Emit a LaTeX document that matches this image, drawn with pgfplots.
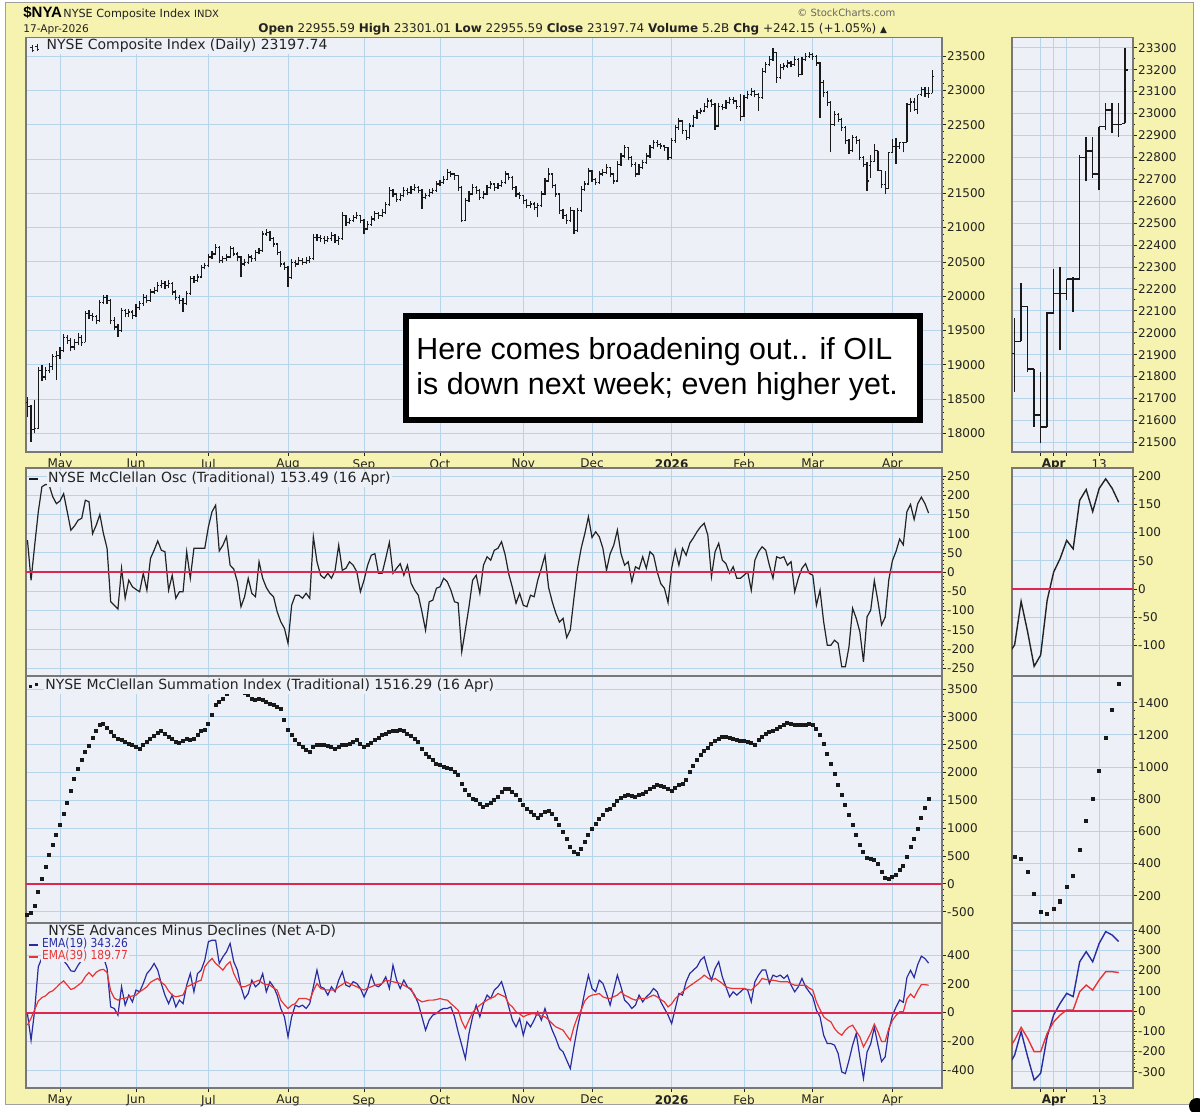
\documentclass[border=0pt]{standalone}
\usepackage{pgfplots}
\pgfplotsset{compat=1.18}
\usepackage{pgfplotstable}
\usepackage{fontspec}
\setmainfont{DejaVu Sans}
\newfontfamily\ls{Liberation Sans}
\newfontfamily\dvc[FakeStretch=0.86]{DejaVu Sans}
\definecolor{bgyellow}{RGB}{246,242,176}
\definecolor{plotbg}{RGB}{238,240,247}
\definecolor{gridc}{RGB}{182,212,234}
\definecolor{framec}{RGB}{120,120,120}
\definecolor{zeroc}{RGB}{220,40,80}
\definecolor{emablue}{RGB}{40,44,160}
\definecolor{emared}{RGB}{232,52,52}
\definecolor{txt}{RGB}{35,35,35}
\definecolor{barc}{RGB}{25,25,25}
\newcommand{\tf}{\fontsize{6}{7}\selectfont}

\pgfplotstableread{
i o h l c
0 18450 18533 18242 18388
1 18388 18420 17880 18050
2 18050 18485 18000 18070
3 18070 18960 18070 18920
4 18920 18990 18760 18820
5 18820 18960 18780 18920
6 18920 19030 18880 18970
7 18970 19160 18930 19115
8 19115 19200 18775 19140
9 19140 19260 19080 19210
10 19210 19450 19180 19400
11 19400 19440 19300 19355
12 19355 19390 19200 19260
13 19260 19370 19220 19330
14 19330 19460 19290 19400
15 19400 19430 19280 19330
16 19330 19790 19330 19745
17 19745 19800 19660 19720
18 19720 19760 19640 19700
19 19700 19730 19590 19650
20 19650 19950 19630 19910
21 19910 20020 19880 19985
22 19985 20010 19880 19940
23 19940 19960 19600 19650
24 19650 19690 19500 19550
25 19550 19600 19405 19500
26 19500 19830 19480 19790
27 19790 19820 19690 19745
28 19745 19820 19700 19770
29 19770 19800 19660 19720
30 19720 19880 19700 19840
31 19840 19930 19800 19890
32 19890 20030 19860 19985
33 19985 20010 19900 19940
34 19940 20100 19920 20060
35 20060 20130 20030 20085
36 20085 20200 20060 20155
37 20155 20230 20120 20180
38 20180 20220 20100 20155
39 20155 20230 20120 20180
40 20180 20200 20020 20060
41 20060 20090 19940 19985
42 19985 20020 19890 19940
43 19940 19970 19770 19890
44 19890 20080 19870 20035
45 20035 20290 20020 20255
46 20255 20300 20190 20230
47 20230 20320 20200 20280
48 20280 20460 20260 20420
49 20420 20490 20390 20445
50 20445 20610 20420 20570
51 20570 20660 20540 20615
52 20615 20760 20600 20715
53 20715 20730 20480 20520
54 20520 20590 20490 20545
55 20545 20620 20520 20570
56 20570 20730 20550 20690
57 20690 20710 20580 20615
58 20615 20640 20520 20570
59 20570 20590 20275 20470
60 20470 20540 20440 20495
61 20495 20610 20470 20570
62 20570 20600 20500 20545
63 20545 20680 20520 20640
64 20640 20700 20610 20665
65 20665 20950 20650 20905
66 20905 20980 20880 20930
67 20930 20950 20800 20835
68 20835 20860 20720 20760
69 20760 20780 20600 20640
70 20640 20660 20430 20470
71 20470 20500 20380 20420
72 20420 20440 20130 20275
73 20275 20540 20250 20495
74 20495 20530 20420 20470
75 20470 20570 20450 20520
76 20520 20550 20450 20495
77 20495 20570 20470 20520
78 20520 20590 20480 20545
79 20545 20900 20530 20860
80 20860 20910 20810 20860
81 20860 20890 20790 20835
82 20835 20870 20760 20810
83 20810 20880 20790 20835
84 20835 20930 20810 20880
85 20880 20900 20770 20810
86 20810 20870 20750 20835
87 20835 21220 20820 21175
88 21175 21190 21030 21075
89 21075 21140 21050 21100
90 21100 21190 21080 21150
91 21150 21220 21130 21175
92 21175 21190 21060 21100
93 21100 21120 20905 20980
94 20980 21090 20960 21050
95 21050 21170 21030 21125
96 21125 21240 21100 21200
97 21200 21230 21130 21175
98 21175 21270 21150 21220
99 21220 21380 21200 21340
100 21340 21590 21320 21540
101 21540 21560 21440 21490
102 21490 21510 21370 21415
103 21415 21510 21390 21465
104 21465 21590 21440 21540
105 21540 21570 21470 21515
106 21515 21610 21490 21560
107 21560 21640 21530 21585
108 21585 21610 21500 21540
109 21540 21560 21270 21440
110 21440 21510 21410 21465
111 21465 21560 21440 21515
112 21515 21580 21490 21540
113 21540 21680 21520 21635
114 21635 21700 21610 21660
115 21660 21750 21640 21705
116 21705 21850 21690 21800
117 21800 21830 21740 21780
118 21780 21800 21700 21755
119 21755 21770 21540 21585
120 21585 21600 21075 21100
121 21100 21430 21090 21390
122 21390 21530 21370 21490
123 21490 21630 21470 21585
124 21585 21610 21490 21535
125 21535 21560 21400 21440
126 21440 21530 21420 21490
127 21490 21620 21470 21585
128 21585 21680 21560 21635
129 21635 21650 21540 21585
130 21585 21650 21560 21610
131 21610 21700 21590 21660
132 21660 21820 21640 21780
133 21780 21800 21690 21730
134 21730 21750 21550 21585
135 21585 21600 21450 21490
136 21490 21520 21420 21465
137 21465 21480 21350 21390
138 21390 21410 21280 21320
139 21320 21390 21290 21345
140 21345 21370 21250 21295
141 21295 21360 21150 21320
142 21320 21530 21300 21490
143 21490 21720 21470 21680
144 21680 21875 21660 21780
145 21780 21800 21570 21610
146 21610 21630 21450 21490
147 21490 21510 21200 21245
148 21245 21270 21130 21175
149 21175 21200 21050 21100
150 21100 21300 21080 21245
151 21245 21260 20905 20955
152 20955 21290 20930 21245
153 21245 21600 21230 21560
154 21560 21680 21540 21635
155 21635 21870 21620 21825
156 21825 21840 21670 21705
157 21705 21730 21620 21660
158 21660 21820 21640 21780
159 21780 21850 21750 21800
160 21800 21920 21780 21875
161 21875 21890 21740 21780
162 21780 21800 21640 21680
163 21680 21970 21660 21925
164 21925 22090 21900 22045
165 22045 22210 22020 22165
166 22165 22180 21980 22020
167 22020 22040 21880 21925
168 21925 21950 21740 21780
169 21780 21920 21760 21875
170 21875 21990 21850 21950
171 21950 22090 21930 22045
172 22045 22210 22020 22165
173 22165 22280 22140 22240
174 22240 22270 22170 22215
175 22215 22240 22150 22190
176 22190 22210 22120 22165
177 22165 22180 21980 22020
178 22020 22310 22000 22265
179 22265 22500 22240 22455
180 22455 22600 22430 22555
181 22555 22570 22370 22410
182 22410 22430 22270 22310
183 22310 22520 22290 22480
184 22480 22640 22460 22600
185 22600 22720 22580 22675
186 22675 22750 22650 22700
187 22700 22810 22680 22770
188 22770 22890 22750 22845
189 22845 22870 22760 22795
190 22795 22810 22430 22480
191 22480 22810 22460 22770
192 22770 22800 22710 22750
193 22750 22860 22730 22820
194 22820 22910 22800 22870
195 22870 22900 22800 22845
196 22845 22860 22730 22770
197 22770 22950 22555 22625
198 22625 22940 22610 22895
199 22895 22990 22870 22940
200 22940 23040 22920 22990
201 22990 23010 22900 22940
202 22940 22960 22700 22895
203 22895 23320 22880 23280
204 23280 23420 23260 23380
205 23380 23500 23360 23450
206 23450 23620 23430 23550
207 23550 23560 23110 23185
208 23185 23380 23160 23330
209 23330 23400 23300 23355
210 23355 23440 23330 23400
211 23400 23430 23340 23380
212 23380 23500 23360 23450
213 23450 23470 23200 23235
214 23235 23490 23220 23450
215 23450 23540 23430 23500
216 23500 23560 23480 23525
217 23525 23540 23450 23500
218 23500 23510 23360 23400
219 23400 23420 22600 23110
220 23110 23150 22900 22965
221 22965 22990 22780 22820
222 22820 22840 22095 22505
223 22505 22700 22480 22650
224 22650 22670 22540 22580
225 22580 22600 22410 22455
226 22455 22480 22220 22265
227 22265 22290 22080 22120
228 22120 22350 22100 22310
229 22310 22330 22220 22265
230 22265 22290 21980 22020
231 22020 22040 21880 21925
232 21925 21950 21535 21680
233 21905 22065 21730 21960
234 21960 22225 21960 22120
235 22120 22120 21820 21835
236 21835 21835 21570 21625
237 21625 21820 21495 21570
238 21570 22095 21570 22090
239 22090 22290 22090 22180
240 22180 22300 21920 22180
241 22180 22245 22150 22245
242 22245 22255 22095 22245
243 22245 22810 22245 22800
244 22800 22895 22690 22830
245 22830 22895 22705 22725
246 22725 22940 22650 22940
247 22940 23050 22925 23015
248 23015 23050 22910 22950
249 22950 23050 22895 22950
250 22955.59 23301.01 22955.59 23197.74
}\price

\pgfplotstableread{
i osc sum b r
0 83 -551 -7 -87
1 -21 -520 -193 -40
2 70 -400 16 20
3 157 -150 318 80
4 222 80 380 104
5 228 300 420 116
6 226 520 440 140
7 196 700 420 151
8 178 880 400 174
9 185 1060 380 200
10 204 1250 360 220
11 157 1450 330 190
12 109 1670 290 160
13 120 1880 285 170
14 135 2060 329 190
15 140 2220 364 209
16 187 2360 375 250
17 183 2480 387 278
18 100 2620 364 250
19 122 2740 380 280
20 150 2850 399 295
21 100 2879 387 300
22 62 2800 306 278
23 -77 2720 39 150
24 -86 2660 28 100
25 -96 2610 -18 86
26 10 2580 179 97
27 -68 2550 51 100
28 -21 2520 121 109
29 -38 2490 74 115
30 -45 2460 156 121
31 -51 2430 144 144
32 -3 2490 202 160
33 -47 2550 271 179
34 36 2610 300 210
35 57 2650 341 225
36 81 2710 295 237
37 57 2741 200 210
38 53 2700 120 190
39 -47 2640 62 150
40 -8 2600 121 121
41 -68 2550 39 109
42 -51 2538 86 115
43 -51 2570 62 121
44 53 2610 190 179
45 -16 2580 271 190
46 62 2610 144 202
47 62 2670 271 215
48 62 2741 295 225
49 62 2759 364 318
50 118 2879 492 350
51 157 3028 503 376
52 174 3207 503 341
53 55 3267 341 320
54 70 3327 387 295
55 92 3417 422 330
56 18 3446 480 353
57 8 3470 353 271
58 -25 3480 295 220
59 -90 3460 179 179
60 -64 3434 97 179
61 -16 3398 132 190
62 -55 3327 225 202
63 -64 3309 179 215
64 27 3327 202 225
65 -16 3297 271 202
66 -40 3267 144 195
67 -55 3237 214 190
68 -64 3207 179 170
69 -103 3178 121 156
70 -129 3148 28 86
71 -146 2939 -30 55
72 -185 2759 -169 28
73 -86 2670 -30 50
74 -60 2580 51 62
75 -60 2520 39 97
76 -68 2460 51 97
77 -55 2400 28 97
78 -68 2370 62 86
79 92 2460 179 150
80 27 2502 295 202
81 -8 2502 179 167
82 -16 2490 167 160
83 -3 2478 121 156
84 -16 2460 179 156
85 5 2418 144 156
86 70 2460 225 179
87 5 2490 283 195
88 10 2502 190 214
89 27 2520 179 200
90 18 2550 214 190
91 1 2580 202 179
92 -51 2520 167 165
93 -21 2460 109 156
94 18 2502 167 170
95 44 2538 260 179
96 48 2580 190 190
97 -3 2622 179 195
98 -3 2670 202 202
99 36 2700 248 225
100 77 2729 167 220
101 -3 2741 329 214
102 10 2741 225 208
103 22 2759 167 202
104 -8 2741 225 190
105 18 2700 179 175
106 -29 2658 156 167
107 -47 2610 121 109
108 -60 2550 62 90
109 -103 2430 -30 74
110 -151 2340 -123 80
111 -77 2280 -53 86
112 -73 2220 -18 86
113 -42 2161 -7 90
114 -38 2130 16 97
115 -16 2100 28 90
116 -25 2083 28 86
117 -47 2059 39 62
118 -77 2011 -30 40
119 -80 1951 -134 16
120 -207 1801 -227 -60
121 -150 1681 -320 -111
122 -90 1591 -146 -53
123 -21 1531 -30 0
124 -8 1501 51 28
125 -55 1442 -30 51
126 18 1382 62 70
127 40 1412 121 86
128 31 1460 97 100
129 57 1501 156 109
130 62 1561 179 132
131 79 1651 214 120
132 45 1711 132 109
133 -5 1699 39 60
134 -40 1651 -53 39
135 -81 1591 -100 5
136 -55 1501 -42 -10
137 -86 1412 -158 -30
138 -90 1352 -65 -18
139 -60 1292 -100 -10
140 -64 1232 -53 -7
141 -21 1190 5 -18
142 10 1232 -53 -25
143 44 1292 28 -30
144 -40 1304 -53 -50
145 -77 1262 -123 -77
146 -107 1172 -181 -100
147 -130 1053 -250 -111
148 -120 933 -274 -123
149 -170 813 -332 -160
150 -150 664 -390 -193
151 -68 574 -239 -100
152 10 544 -100 -30
153 62 634 16 16
154 100 754 144 80
155 144 873 260 109
156 90 993 167 121
157 105 1083 144 125
158 92 1172 225 132
159 62 1244 202 109
160 5 1322 132 100
161 48 1352 51 97
162 70 1412 156 110
163 109 1484 260 121
164 48 1543 179 144
165 18 1579 86 120
166 27 1603 62 109
167 -25 1579 28 95
168 14 1561 51 86
169 8 1591 121 97
170 40 1621 74 97
171 10 1651 109 97
172 53 1699 132 110
173 44 1741 167 121
174 1 1770 144 109
175 -30 1758 74 90
176 -42 1741 28 74
177 -79 1711 -18 39
178 10 1663 -77 60
179 57 1723 28 97
180 18 1770 132 120
181 62 1801 121 144
182 44 1860 214 167
183 75 2011 271 185
184 89 2118 295 202
185 105 2220 318 220
186 118 2310 364 237
187 127 2382 387 260
188 96 2442 295 240
189 -12 2520 225 225
190 53 2562 306 237
191 75 2610 353 220
192 31 2640 248 202
193 22 2640 179 179
194 -3 2622 109 170
195 14 2598 144 167
196 -16 2580 121 167
197 -16 2568 144 167
198 -8 2562 167 167
199 1 2550 156 160
200 -47 2538 74 156
201 31 2502 214 180
202 53 2580 260 202
203 66 2640 295 237
204 57 2700 295 230
205 18 2729 202 225
206 -16 2741 260 225
207 40 2789 248 220
208 36 2819 260 214
209 40 2861 237 214
210 18 2897 260 214
211 27 2879 190 200
212 -51 2849 144 190
213 -16 2861 179 190
214 10 2861 237 190
215 22 2861 179 190
216 -3 2879 144 170
217 -8 2861 109 156
218 -86 2789 16 74
219 -47 2670 -30 20
220 -129 2520 -158 -30
221 -190 2340 -216 -50
222 -190 2161 -216 -65
223 -177 1981 -227 -111
224 -185 1770 -285 -140
225 -246 1591 -413 -158
226 -246 1412 -425 -123
227 -194 1232 -332 -100
228 -94 1053 -227 -88
229 -120 873 -146 -130
230 -155 694 -309 -169
231 -233 574 -459 -239
232 -116 470 -274 -193
233 -99 442 -218 -144
234 -22 428 -102 -81
235 -76 349 -226 -135
236 -137 210 -341 -201
237 -117 100 -308 -201
238 -20 86 -127 -111
239 30 117 -20 -54
240 54 163 38 -20
241 86 252 87 5
242 71 322 71 5
243 157 484 243 95
244 176 666 293 128
245 137 801 243 103
246 178 977 334 153
247 195 1178 392 194
248 178 1354 375 194
249 153.49 1516.29 343.26 189.77
}\ind

\pgfplotsset{
 base/.style={
  scale only axis, anchor=north west, clip=true,
  axis background/.style={fill=plotbg},
  axis line style={draw=framec, line width=0.6pt},
  grid=major, major grid style={draw=gridc, line width=0.45pt},
  xtick pos=bottom, ytick pos=right, yticklabel pos=right,
  tick align=outside, major tick length=1.8pt, minor tick length=0.9pt,
  tick style={draw=txt, line width=0.35pt},
  scaled ticks=false,
  yticklabel style={font=\tf, text=txt, inner sep=0.6pt},
  xticklabel style={font=\tf, text=txt, inner sep=1.6pt},
  /pgf/number format/fixed,
  /pgf/number format/1000 sep={},
  /pgf/number format/assume math mode=true,
 },
 lft/.style={base, width=458pt, xmin=-0.4, xmax=252.7,
   xtick={9,30,50,72,93,114,137,156,178,198,217,239}},
 rgt/.style={base, width=60.5pt, xmin=232.6, xmax=251.2,
   xtick={237,239,241,246}},
 monthlabels/.style={xticklabels={May,Jun,Jul,Aug,Sep,Oct,Nov,Dec,\textbf{2026},Feb,Mar,Apr}},
 aprlabels/.style={xticklabels={,\textbf{Apr},,13}},
 nolabels/.style={xticklabel=\empty},
 bars/.style={barc, line width=#1, mark=none},
}

\begin{document}
\begin{tikzpicture}
\useasboundingbox (0,0) rectangle (600pt,556pt);
\fill[white] (0,0) rectangle (600pt,556pt);
\filldraw[fill=bgyellow, draw=framec!70, line width=0.5pt] (2.5pt,554.5pt) rectangle (596.5pt,3.5pt);

% ---------- Panel 1 left: price
\begin{axis}[lft, monthlabels, at={(13pt,537.25pt)}, height=207.25pt,
  ymin=17728, ymax=23772, ytick={18000,18500,...,23500}, minor y tick num=4]
\addplot[bars=0.6pt, quiver={u=0, v=\thisrow{h}-\thisrow{l}}] table[x=i, y=l] {\price};
\addplot[bars=0.6pt, quiver={u=0.45, v=0}] table[x=i, y=c] {\price};
\addplot[bars=0.6pt, quiver={u=-0.45, v=0}] table[x=i, y=o] {\price};
\end{axis}

% ---------- Panel 1 right
\begin{axis}[rgt, aprlabels, at={(506pt,537.25pt)}, height=207.25pt,
  ymin=21456, ymax=23347, ytick={21500,21600,...,23300}, minor y tick num=1]
\addplot[bars=0.75pt, quiver={u=0, v=\thisrow{h}-\thisrow{l}}] table[x=i, y=l] {\price};
\addplot[bars=0.75pt, quiver={u=0.5, v=0}] table[x=i, y=c] {\price};
\addplot[bars=0.75pt, quiver={u=-0.5, v=0}] table[x=i, y=o] {\price};
\end{axis}

% ---------- Panel 2: McClellan Oscillator
\begin{axis}[lft, nolabels, at={(13pt,322pt)}, height=104pt,
  ymin=-270, ymax=270.8, ytick={-250,-200,...,250}, minor y tick num=4]
\addplot[txt, line width=0.6pt] table[x=i, y=osc] {\ind};
\addplot[zeroc, line width=1pt, forget plot] coordinates {(-10,0) (300,0)};
\end{axis}
\begin{axis}[rgt, nolabels, at={(506pt,322pt)}, height=104pt,
  ymin=-154, ymax=214.2, ytick={-100,-50,...,200}, minor y tick num=4]
\addplot[txt, line width=0.7pt] table[x=i, y=osc] {\ind};
\addplot[zeroc, line width=1pt, forget plot] coordinates {(200,0) (300,0)};
\end{axis}

% ---------- Panel 3: Summation index
\begin{axis}[lft, nolabels, at={(13pt,218pt)}, height=123.5pt,
  ymin=-703, ymax=3733, ytick={-500,0,...,3500}, minor y tick num=4]
\addplot[zeroc, line width=1pt, forget plot] coordinates {(-10,0) (300,0)};
\addplot[only marks, mark=square*, mark size=0.75pt, mark options={draw=barc, fill=barc, line width=0pt}] table[x=i, y=sum] {\ind};
\end{axis}
\begin{axis}[rgt, nolabels, at={(506pt,218pt)}, height=123.5pt,
  ymin=30, ymax=1566, ytick={200,400,...,1400}, minor y tick num=3]
\addplot[only marks, mark=square*, mark size=0.8pt, mark options={draw=barc, fill=barc, line width=0pt}] table[x=i, y=sum] {\ind};
\end{axis}

% ---------- Panel 4: Net A-D EMAs
\begin{axis}[lft, monthlabels, at={(13pt,94.5pt)}, height=82.5pt,
  ymin=-525, ymax=622.6, ytick={-400,-200,...,400}, minor y tick num=3]
\addplot[emablue, line width=0.6pt] table[x=i, y=b] {\ind};
\addplot[emared, line width=0.6pt] table[x=i, y=r] {\ind};
\addplot[zeroc, line width=1pt, forget plot] coordinates {(-10,0) (300,0)};
\end{axis}
\begin{axis}[rgt, aprlabels, at={(506pt,94.5pt)}, height=82.5pt,
  ymin=-380.5, ymax=434.6, ytick={-300,-200,...,400}, minor y tick num=4]
\addplot[emablue, line width=0.7pt] table[x=i, y=b] {\ind};
\addplot[emared, line width=0.7pt] table[x=i, y=r] {\ind};
\addplot[zeroc, line width=1pt, forget plot] coordinates {(200,0) (300,0)};
\end{axis}

% ---------- Panel titles
\node[anchor=base west, fill=plotbg, inner sep=0.6pt, text=txt, font=\fontsize{7}{8}\selectfont] at (22.5pt,531pt) {NYSE Composite Index (Daily) 23197.74};
\draw[txt, line width=0.45pt] (16pt,533.5pt) -- (16pt,530pt) (15pt,532.5pt) -- (16pt,532.5pt) (16pt,531pt) -- (17pt,531pt)
  (18.6pt,534pt) -- (18.6pt,530.5pt) (17.6pt,533pt) -- (18.6pt,533pt) (18.6pt,531.5pt) -- (19.6pt,531.5pt);
\node[anchor=base west, fill=plotbg, inner sep=0.6pt, text=txt, font=\fontsize{7}{8}\selectfont] at (23.25pt,314.5pt) {NYSE McClellan Osc (Traditional) 153.49 (16 Apr)};
\draw[barc, line width=1pt] (14.5pt,316.4pt) -- (19pt,316.4pt);
\node[anchor=base west, fill=plotbg, inner sep=0.6pt, text=txt, font=\fontsize{7}{8}\selectfont] at (21.85pt,211pt) {NYSE McClellan Summation Index (Traditional) 1516.29 (16 Apr)};
\fill[barc] (14.6pt,212.2pt) rectangle (16pt,213.6pt);
\fill[barc] (17.6pt,213pt) rectangle (19pt,214.4pt);
\node[anchor=base west, fill=plotbg, inner sep=0.6pt, text=txt, font=\fontsize{7}{8}\selectfont] at (23.35pt,88pt) {NYSE Advances Minus Declines (Net A-D)};
\draw[emablue, line width=1pt] (14.5pt,83.6pt) -- (19pt,83.6pt);
\node[anchor=base west, fill=plotbg, inner sep=0.4pt, text=emablue, font=\dvc\fontsize{6.2}{7}\selectfont] at (20.5pt,82pt) {EMA(19) 343.26};
\draw[emared, line width=1pt] (14.5pt,77.6pt) -- (19pt,77.6pt);
\node[anchor=base west, fill=plotbg, inner sep=0.4pt, text=emared, font=\dvc\fontsize{6.2}{7}\selectfont] at (20.5pt,76pt) {EMA(39) 189.77};

% ---------- Annotation box
\filldraw[fill=white, draw=black, line width=3pt] (203pt,398pt) rectangle (460pt,346pt);
\node[anchor=base west, inner sep=0pt, font=\ls\fontsize{15.2}{18}\selectfont] at (208pt,376.25pt) {Here comes broadening out.. if OIL};
\node[anchor=base west, inner sep=0pt, font=\ls\fontsize{15.2}{18}\selectfont] at (208pt,358.5pt) {is down next week; even higher yet.};

% ---------- Header
\node[anchor=base west, inner sep=0pt, text=black, font=\ls\bfseries\fontsize{7.5}{8}\selectfont] at (11.5pt,547pt) {\$NYA};
\node[anchor=base west, inner sep=0pt, text=txt, font=\fontsize{5.6}{6}\selectfont] at (31.5pt,547pt) {NYSE Composite Index {\fontsize{5}{6}\selectfont INDX}};
\node[anchor=base west, inner sep=0pt, text=txt, font=\fontsize{5.3}{6}\selectfont] at (11.5pt,539.5pt) {17-Apr-2026};
\node[anchor=base west, inner sep=0pt, text=txt, font=\fontsize{6}{7}\selectfont] at (129pt,539.5pt) {\textbf{Open} 22955.59 \textbf{High} 23301.01 \textbf{Low} 22955.59 \textbf{Close} 23197.74 \textbf{Volume} 5.2B \textbf{Chg} +242.15 (+1.05\%) {\fontsize{4.5}{5}\selectfont ▲}};
\node[anchor=base west, inner sep=0pt, text=black!60, font=\fontsize{5}{6}\selectfont] at (398.5pt,547.5pt) {© StockCharts.com};

\fill[black] (598.5pt,3pt) circle (4pt);
\end{tikzpicture}
\end{document}
